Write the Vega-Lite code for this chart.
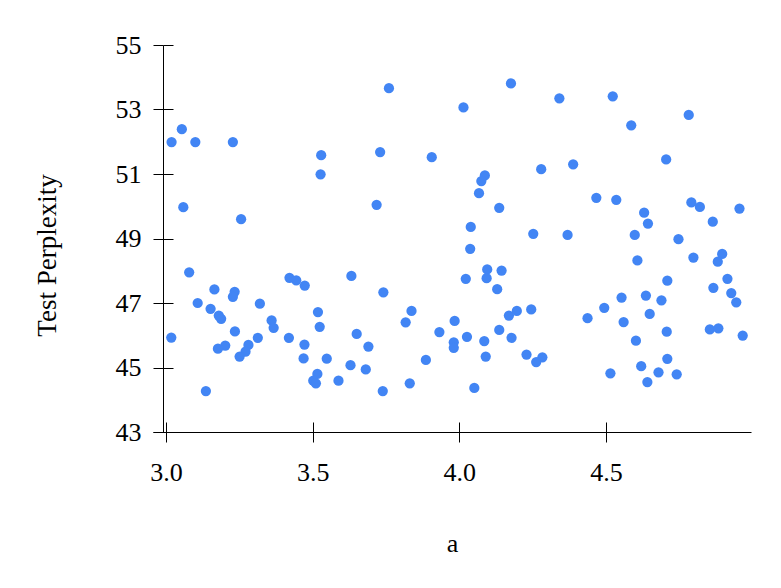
{
  "$schema": "https://vega.github.io/schema/vega-lite/v6.json",
  "width": 598,
  "height": 387,
  "autosize": {"type": "none"},
  "padding": {"left": 153, "top": 45, "right": 30, "bottom": 156},
  "background": "white",
  "config": {
    "view": {"stroke": null},
    "font": "Liberation Serif",
    "axis": {
      "labelFont": "Liberation Serif",
      "titleFont": "Liberation Serif",
      "labelFontSize": 26,
      "titleFontSize": 26,
      "titleFontWeight": "normal",
      "labelColor": "#000",
      "titleColor": "#000",
      "domainColor": "#000",
      "tickColor": "#000",
      "domainWidth": 1,
      "tickWidth": 1,
      "grid": false
    }
  },
  "data": {
    "values": [
      {"a": 3.054, "perplexity": 52.39},
      {"a": 3.019, "perplexity": 51.99},
      {"a": 3.100, "perplexity": 51.99},
      {"a": 3.228, "perplexity": 51.99},
      {"a": 3.529, "perplexity": 51.585},
      {"a": 3.527, "perplexity": 50.99},
      {"a": 3.059, "perplexity": 49.97},
      {"a": 3.256, "perplexity": 49.60},
      {"a": 3.079, "perplexity": 47.95},
      {"a": 3.165, "perplexity": 47.42},
      {"a": 3.234, "perplexity": 47.345},
      {"a": 3.228, "perplexity": 47.19},
      {"a": 3.108, "perplexity": 47.00},
      {"a": 3.152, "perplexity": 46.82},
      {"a": 3.180, "perplexity": 46.61},
      {"a": 3.188, "perplexity": 46.51},
      {"a": 3.320, "perplexity": 46.98},
      {"a": 3.421, "perplexity": 47.78},
      {"a": 3.444, "perplexity": 47.705},
      {"a": 3.473, "perplexity": 47.54},
      {"a": 3.360, "perplexity": 46.46},
      {"a": 3.367, "perplexity": 46.23},
      {"a": 3.235, "perplexity": 46.12},
      {"a": 3.018, "perplexity": 45.93},
      {"a": 3.313, "perplexity": 45.92},
      {"a": 3.419, "perplexity": 45.92},
      {"a": 3.518, "perplexity": 46.72},
      {"a": 3.524, "perplexity": 46.26},
      {"a": 3.472, "perplexity": 45.71},
      {"a": 3.281, "perplexity": 45.70},
      {"a": 3.202, "perplexity": 45.68},
      {"a": 3.177, "perplexity": 45.585},
      {"a": 3.271, "perplexity": 45.49},
      {"a": 3.251, "perplexity": 45.34},
      {"a": 3.469, "perplexity": 45.28},
      {"a": 3.548, "perplexity": 45.275},
      {"a": 3.632, "perplexity": 47.84},
      {"a": 3.650, "perplexity": 46.04},
      {"a": 3.629, "perplexity": 45.07},
      {"a": 3.516, "perplexity": 44.80},
      {"a": 3.502, "perplexity": 44.59},
      {"a": 3.511, "perplexity": 44.51},
      {"a": 3.588, "perplexity": 44.59},
      {"a": 3.136, "perplexity": 44.27},
      {"a": 3.760, "perplexity": 53.66},
      {"a": 4.176, "perplexity": 53.81},
      {"a": 4.014, "perplexity": 53.065},
      {"a": 4.341, "perplexity": 53.345},
      {"a": 3.730, "perplexity": 51.68},
      {"a": 3.906, "perplexity": 51.52},
      {"a": 4.087, "perplexity": 50.955},
      {"a": 4.075, "perplexity": 50.78},
      {"a": 4.067, "perplexity": 50.405},
      {"a": 4.279, "perplexity": 51.15},
      {"a": 3.718, "perplexity": 50.045},
      {"a": 4.136, "perplexity": 49.95},
      {"a": 4.039, "perplexity": 49.36},
      {"a": 4.252, "perplexity": 49.145},
      {"a": 4.037, "perplexity": 48.68},
      {"a": 4.095, "perplexity": 48.04},
      {"a": 4.144, "perplexity": 48.006},
      {"a": 4.093, "perplexity": 47.77},
      {"a": 4.022, "perplexity": 47.75},
      {"a": 4.129, "perplexity": 47.43},
      {"a": 3.741, "perplexity": 47.33},
      {"a": 3.837, "perplexity": 46.755},
      {"a": 3.817, "perplexity": 46.40},
      {"a": 3.984, "perplexity": 46.445},
      {"a": 3.932, "perplexity": 46.10},
      {"a": 4.026, "perplexity": 45.95},
      {"a": 3.981, "perplexity": 45.78},
      {"a": 3.981, "perplexity": 45.61},
      {"a": 4.085, "perplexity": 45.82},
      {"a": 4.090, "perplexity": 45.34},
      {"a": 4.169, "perplexity": 46.61},
      {"a": 4.196, "perplexity": 46.755},
      {"a": 4.245, "perplexity": 46.80},
      {"a": 4.136, "perplexity": 46.165},
      {"a": 4.178, "perplexity": 45.92},
      {"a": 4.229, "perplexity": 45.40},
      {"a": 4.283, "perplexity": 45.315},
      {"a": 4.262, "perplexity": 45.17},
      {"a": 3.690, "perplexity": 45.65},
      {"a": 3.681, "perplexity": 44.94},
      {"a": 3.886, "perplexity": 45.235},
      {"a": 3.831, "perplexity": 44.51},
      {"a": 3.739, "perplexity": 44.27},
      {"a": 4.051, "perplexity": 44.365},
      {"a": 4.523, "perplexity": 53.41},
      {"a": 4.586, "perplexity": 52.51},
      {"a": 4.782, "perplexity": 52.83},
      {"a": 4.388, "perplexity": 51.30},
      {"a": 4.705, "perplexity": 51.45},
      {"a": 4.467, "perplexity": 50.26},
      {"a": 4.535, "perplexity": 50.20},
      {"a": 4.791, "perplexity": 50.117},
      {"a": 4.820, "perplexity": 49.98},
      {"a": 4.955, "perplexity": 49.93},
      {"a": 4.630, "perplexity": 49.80},
      {"a": 4.643, "perplexity": 49.465},
      {"a": 4.864, "perplexity": 49.52},
      {"a": 4.369, "perplexity": 49.11},
      {"a": 4.598, "perplexity": 49.11},
      {"a": 4.747, "perplexity": 48.98},
      {"a": 4.607, "perplexity": 48.32},
      {"a": 4.798, "perplexity": 48.41},
      {"a": 4.896, "perplexity": 48.52},
      {"a": 4.881, "perplexity": 48.28},
      {"a": 4.709, "perplexity": 47.69},
      {"a": 4.914, "perplexity": 47.75},
      {"a": 4.866, "perplexity": 47.47},
      {"a": 4.927, "perplexity": 47.31},
      {"a": 4.944, "perplexity": 47.02},
      {"a": 4.553, "perplexity": 47.17},
      {"a": 4.636, "perplexity": 47.23},
      {"a": 4.689, "perplexity": 47.085},
      {"a": 4.494, "perplexity": 46.85},
      {"a": 4.437, "perplexity": 46.53},
      {"a": 4.560, "perplexity": 46.41},
      {"a": 4.649, "perplexity": 46.66},
      {"a": 4.707, "perplexity": 46.11},
      {"a": 4.854, "perplexity": 46.18},
      {"a": 4.883, "perplexity": 46.215},
      {"a": 4.966, "perplexity": 45.99},
      {"a": 4.602, "perplexity": 45.83},
      {"a": 4.709, "perplexity": 45.27},
      {"a": 4.620, "perplexity": 45.04},
      {"a": 4.679, "perplexity": 44.85},
      {"a": 4.741, "perplexity": 44.79},
      {"a": 4.515, "perplexity": 44.82},
      {"a": 4.641, "perplexity": 44.55}
    ]
  },
  "layer": [
    {
      "mark": {"type": "point", "filled": true, "opacity": 0},
      "encoding": {
        "x": {
          "field": "a", "type": "quantitative",
          "scale": {"domain": [2.9557, 4.9943], "nice": false, "zero": false},
          "axis": {"orient": "bottom", "values": [3.0, 3.5, 4.0, 4.5], "tickSize": -10, "labels": false, "domain": false, "title": null}
        },
        "y": {
          "field": "perplexity", "type": "quantitative",
          "scale": {"domain": [43, 55], "nice": false, "zero": false},
          "axis": {"orient": "left", "offset": -10, "values": [43, 45, 47, 49, 51, 53, 55], "tickSize": -10, "labels": false, "domain": false, "title": null}
        }
      }
    },
    {
      "mark": {"type": "point", "filled": true, "opacity": 1, "color": "#4285F4", "size": 105},
      "encoding": {
        "x": {
          "field": "a", "type": "quantitative",
          "axis": {"orient": "bottom", "values": [3.0, 3.5, 4.0, 4.5], "format": ".1f", "tickSize": 10, "labelPadding": 17, "title": "a", "titleBaseline": "alphabetic", "titleY": 119.5}
        },
        "y": {
          "field": "perplexity", "type": "quantitative",
          "axis": {"orient": "left", "offset": -10, "values": [43, 45, 47, 49, 51, 53, 55], "format": "d", "tickSize": 10, "labelPadding": 12, "title": "Test Perplexity", "titleFontSize": 27, "titleBaseline": "alphabetic", "titleX": -108, "titleY": 210}
        }
      }
    }
  ],
  "resolve": {"axis": {"x": "independent", "y": "independent"}}
}
